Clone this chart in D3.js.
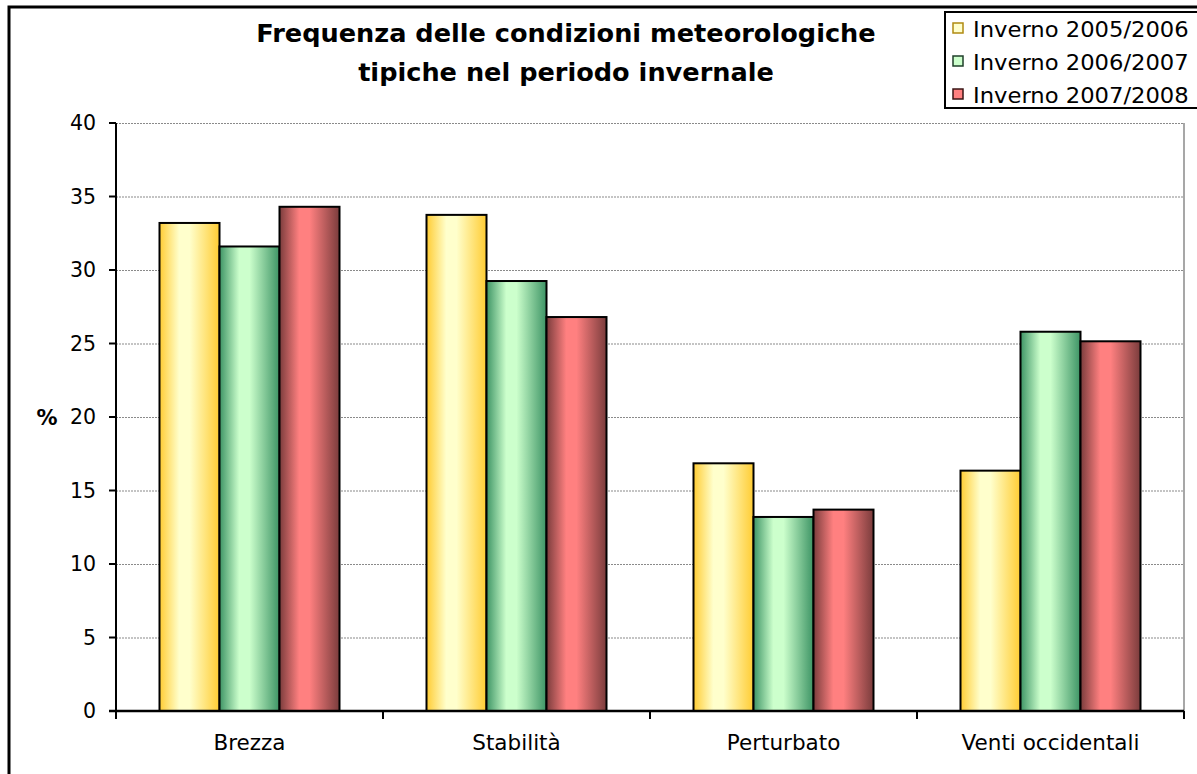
<!DOCTYPE html>
<html>
<head>
<meta charset="utf-8">
<script src="https://cdn.jsdelivr.net/npm/d3@7"></script>
<style>
  body { margin: 0; background: #fff; }
  svg { display: block; font-family: "DejaVu Sans", Verdana, sans-serif; }
</style>
</head>
<body>
<svg id="chart"></svg>
<script>
const categories = ["Brezza", "Stabilità", "Perturbato", "Venti occidentali"];
const seriesNames = ["Inverno 2005/2006", "Inverno 2006/2007", "Inverno 2007/2008"];
const inverno0506 = [33.2, 33.75, 16.85, 16.35];
const inverno0607 = [31.6, 29.25, 13.2, 25.8];
const inverno0708 = [34.3, 26.8, 13.7, 25.15];
const yTicks = [0, 5, 10, 15, 20, 25, 30, 35, 40];
const titleLines = ["Frequenza delle condizioni meteorologiche", "tipiche nel periodo invernale"];

// edge colour / centre colour of the Excel-like gradients
const colors = [
  { dark: "#ffcc33", light: "#ffffcc", swatch: "#ffffcc", border: "#b08a10" },
  { dark: "#3d9465", light: "#ccffcc", swatch: "#ccffcc", border: "#1f3f2a" },
  { dark: "#7a3c3c", light: "#ff8080", swatch: "#ff8080", border: "#3a1515" }
];

const width = 1197, height = 774;
const margin = { top: 123, right: 13, bottom: 63, left: 116 };

const svg = d3.select("#chart").attr("width", width).attr("height", height);
svg.append("rect").attr("width", width).attr("height", height).attr("fill", "#fff");

const defs = svg.append("defs");
colors.forEach((c, i) => {
  const g = defs.append("linearGradient").attr("id", "grad" + i)
    .attr("x1", "0%").attr("x2", "100%").attr("y1", "0%").attr("y2", "0%");
  g.append("stop").attr("offset", "0%").attr("stop-color", c.dark);
  g.append("stop").attr("offset", "33%").attr("stop-color", c.light);
  g.append("stop").attr("offset", "50%").attr("stop-color", c.light);
  g.append("stop").attr("offset", "100%").attr("stop-color", c.dark);
});

// outer chart frame
svg.append("rect").attr("x", 9).attr("y", 7).attr("width", 1200).attr("height", 800)
  .attr("fill", "none").attr("stroke", "#000").attr("stroke-width", 3);

const x0 = d3.scaleBand().domain(categories).range([margin.left, width - margin.right]).padding(0);
const x1 = d3.scaleBand().domain(seriesNames).range([0, x0.bandwidth()]).paddingInner(0).paddingOuter(0.725);
const y = d3.scaleLinear().domain([0, 40]).range([height - margin.bottom, margin.top]);

function stretchedText(parent, x, yy, str, opts) {
  const g = parent.append("g").attr("transform", `translate(${x},${yy})`);
  return g.append("text")
    .attr("transform", `scale(${opts.scale || 1},1)`)
    .attr("text-anchor", opts.anchor || "start")
    .attr("dy", opts.dy || "0.35em")
    .attr("font-size", opts.size || 21)
    .attr("font-weight", opts.weight || "normal")
    .attr("fill", "#000")
    .text(str);
}

// gridlines
svg.append("g").selectAll("line").data(yTicks.filter((d) => d > 0)).join("line")
  .attr("x1", margin.left).attr("x2", width - margin.right)
  .attr("y1", (d) => y(d) + 0.5).attr("y2", (d) => y(d) + 0.5)
  .attr("stroke", "#8a8a8a").attr("stroke-width", 1.2).attr("stroke-dasharray", "2,1");

svg.append("line").attr("x1", width - margin.right).attr("x2", width - margin.right)
  .attr("y1", y(40)).attr("y2", y(0)).attr("stroke", "#8a8a8a").attr("stroke-width", 1.5);

// bars
const data = [inverno0506, inverno0607, inverno0708];
const groups = svg.append("g").selectAll("g").data(categories).join("g")
  .attr("transform", (d) => `translate(${x0(d)},0)`);
groups.selectAll("rect")
  .data((c, ci) => seriesNames.map((s, si) => ({ s, si, v: data[si][ci] })))
  .join("rect")
  .attr("x", (d) => x1(d.s))
  .attr("width", x1.bandwidth())
  .attr("y", (d) => y(d.v))
  .attr("height", (d) => y(0) - y(d.v))
  .attr("fill", (d) => `url(#grad${d.si})`)
  .attr("stroke", "#000").attr("stroke-width", 2);

// y axis
const yAxis = svg.append("g");
yAxis.append("line").attr("x1", margin.left).attr("x2", margin.left)
  .attr("y1", y(40)).attr("y2", y(0)).attr("stroke", "#000").attr("stroke-width", 2);
yAxis.selectAll("line.tick").data(yTicks).join("line").attr("class", "tick")
  .attr("x1", margin.left - 7).attr("x2", margin.left)
  .attr("y1", (d) => y(d)).attr("y2", (d) => y(d))
  .attr("stroke", "#000").attr("stroke-width", 2);
yTicks.forEach((t) => stretchedText(yAxis, 96, y(t), String(t), { anchor: "end", size: 20.5 }));
stretchedText(svg, 47, y(20) + 1, "%", { anchor: "middle", weight: "bold", size: 21 });

// x axis
const xAxis = svg.append("g");
xAxis.append("line").attr("x1", margin.left - 7).attr("x2", width - margin.right)
  .attr("y1", y(0)).attr("y2", y(0)).attr("stroke", "#000").attr("stroke-width", 2.5);
const bounds = categories.map((c) => x0(c)).concat([x0.range()[1]]);
xAxis.selectAll("line.tick").data(bounds).join("line").attr("class", "tick")
  .attr("x1", (d) => d).attr("x2", (d) => d)
  .attr("y1", y(0)).attr("y2", y(0) + 8)
  .attr("stroke", "#000").attr("stroke-width", 2);
categories.forEach((c) => stretchedText(xAxis, x0(c) + x0.bandwidth() / 2, 742, c, { anchor: "middle", size: 21.5 }));

// title
titleLines.forEach((t, i) =>
  stretchedText(svg, 566, 33 + i * 39, t, { anchor: "middle", weight: "bold", size: 24.5, scale: 1.045 }));

// legend
const legend = svg.append("g");
legend.append("rect").attr("x", 945).attr("y", 12).attr("width", 270).attr("height", 96)
  .attr("fill", "#fff").attr("stroke", "#000").attr("stroke-width", 2);
seriesNames.forEach((s, i) => {
  const cy = 28 + i * 33;
  legend.append("rect").attr("x", 953).attr("y", cy - 5).attr("width", 10).attr("height", 10)
    .attr("fill", colors[i].swatch).attr("stroke", colors[i].border).attr("stroke-width", 1.5);
  stretchedText(legend, 973, cy + 1, s, { size: 22, scale: 1.03 });
});
</script>
</body>
</html>
